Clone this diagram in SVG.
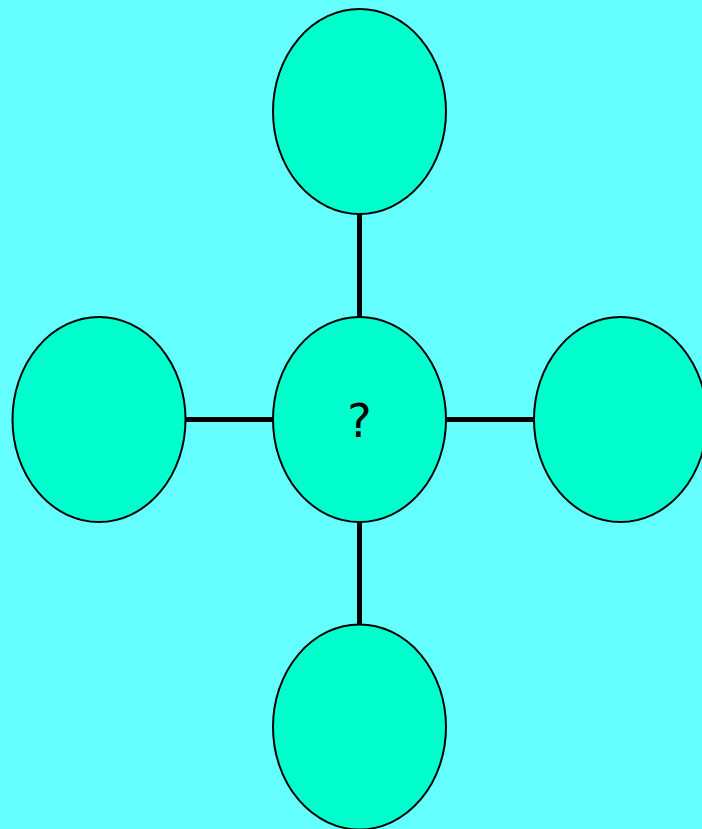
<svg xmlns="http://www.w3.org/2000/svg" width="702" height="829" viewBox="0 0 702 829">
<style>
.n{fill:#00ffcc;stroke:#000;stroke-width:2}
.c{stroke:#000;stroke-width:5;fill:none}
.t{font-family:"DejaVu Sans",sans-serif;font-size:46px;fill:#000;text-anchor:middle}
</style>
<rect width="702" height="829" fill="#66ffff"/>
<g id="connectors">
<line class="c" x1="359.5" y1="214" x2="359.5" y2="317"/>
<line class="c" x1="359.5" y1="522" x2="359.5" y2="625"/>
<line class="c" x1="186" y1="419.5" x2="273" y2="419.5"/>
<line class="c" x1="446" y1="419.5" x2="534" y2="419.5"/>
</g>
<g id="top"><ellipse class="n" cx="359.5" cy="111.5" rx="86.5" ry="102.5"/></g>
<g id="left"><ellipse class="n" cx="99" cy="419.5" rx="86.5" ry="102.5"/></g>
<g id="right"><ellipse class="n" cx="620.5" cy="419.5" rx="86.5" ry="102.5"/></g>
<g id="bottom"><ellipse class="n" cx="359.5" cy="727" rx="86.5" ry="102.5"/></g>
<g id="center"><ellipse class="n" cx="359.5" cy="419.5" rx="86.5" ry="102.5"/>
<text class="t" x="359.5" y="437">?</text></g>
</svg>
